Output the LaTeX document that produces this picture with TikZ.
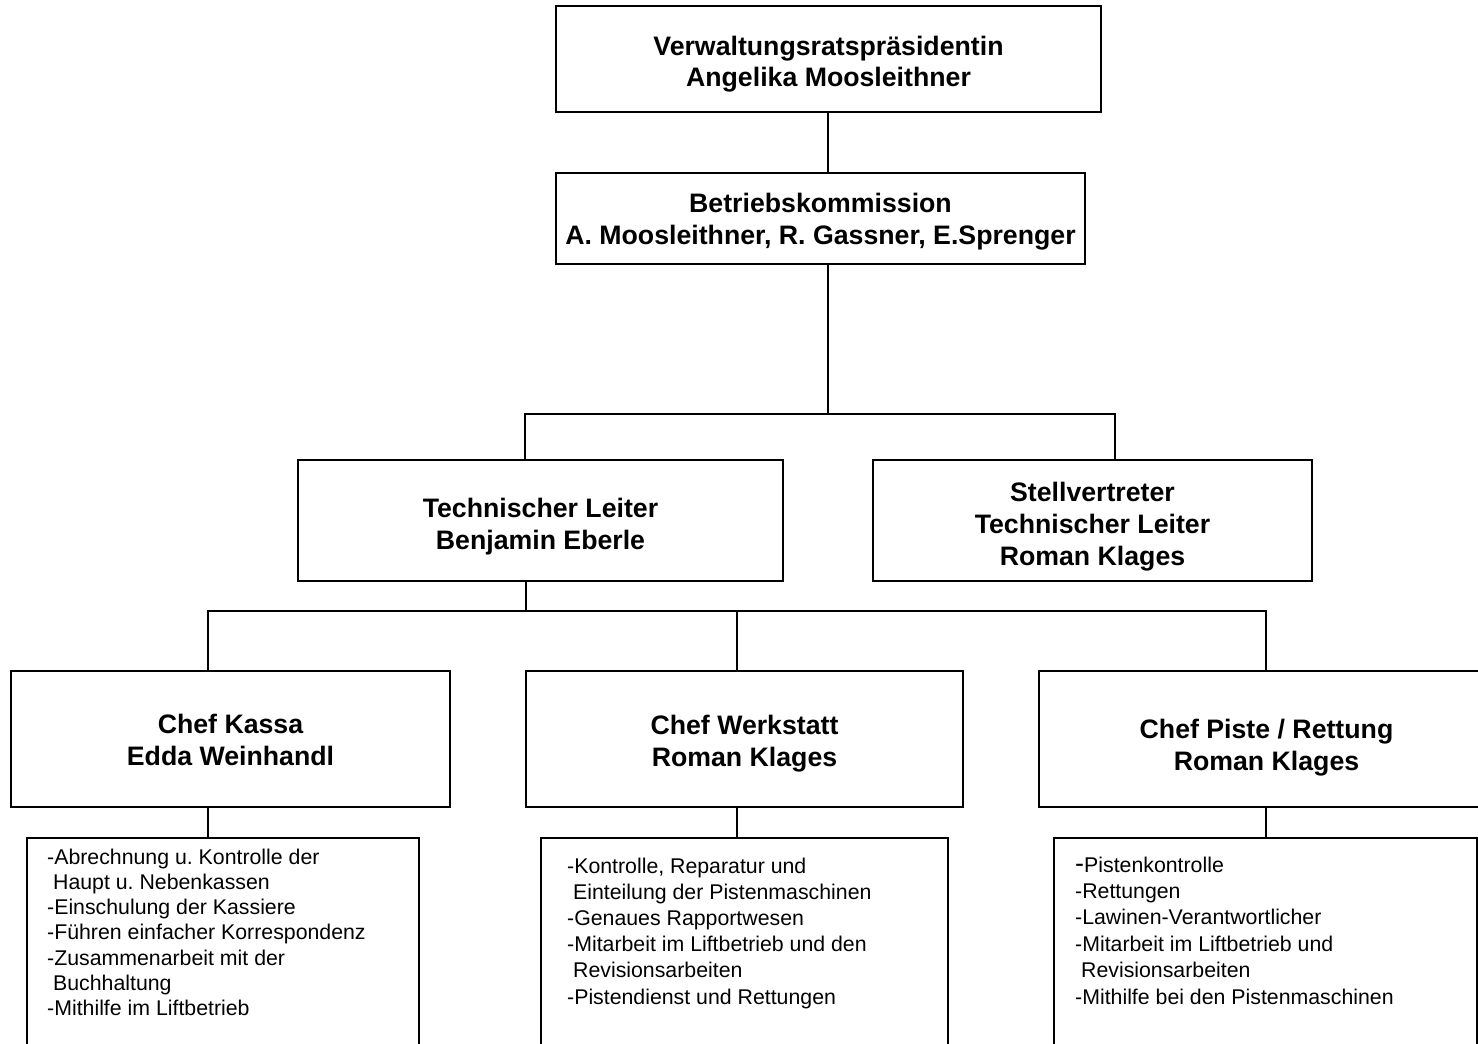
\documentclass[tikz,border=0pt]{standalone}
\usepackage{fontspec}
\setmainfont{Liberation Sans}
\frenchspacing
\tikzset{
  box/.style={draw, line width=1.8pt, inner sep=0pt},
  boxtext/.style={anchor=base, inner sep=0pt,
    font=\fontsize{26.7}{32}\selectfont\bfseries},
  listbox/.style={draw, line width=1.8pt, inner sep=0pt},
  listtext/.style={anchor=base west, inner sep=0pt},
  conn/.style={line width=1.3pt}
}
\newcommand{\ind}{\hspace*{0.28em}}
\newcommand{\ctext}[1]{\parbox[t]{600pt}{\centering #1}}
\begin{document}
\begin{tikzpicture}[x=1pt, y=-1pt]
\useasboundingbox (0,0) rectangle (1478,1044);
\clip (0,0) rectangle (1478,1044);
\fill[white] (0,0) rectangle (1478,1044);

% boxes
\node[box, minimum width=545pt, minimum height=106pt] (vr) at (828.5,59) {};
\node[box, minimum width=529pt, minimum height=91pt] (bk) at (820.5,218.5) {};
\node[box, minimum width=485pt, minimum height=121pt] (tl) at (540.5,520.5) {};
\node[box, minimum width=439pt, minimum height=121pt] (stv) at (1092.5,520.5) {};
\node[box, minimum width=439pt, minimum height=136pt] (ck) at (230.5,739) {};
\node[box, minimum width=437pt, minimum height=136pt] (cw) at (744.5,739) {};
\node[box, minimum width=455pt, minimum height=136pt] (cp) at (1266.5,739) {};

% box texts (first baseline placed)
\node[boxtext] (vrt) at (828.5,55) {\ctext{Verwaltungsratspräsidentin\\Angelika Moosleithner}};
\node[boxtext] (bkt) at (820.5,212) {\ctext{Betriebskommission\\A. Moosleithner, R. Gassner, E.Sprenger}};
\node[boxtext] (tlt) at (540.5,517) {\ctext{Technischer Leiter\\Benjamin Eberle}};
\node[boxtext] (stvt) at (1092.5,501) {\ctext{Stellvertreter\\Technischer Leiter\\Roman Klages}};
\node[boxtext] (ckt) at (230.5,733) {\ctext{Chef Kassa\\Edda Weinhandl}};
\node[boxtext] (cwt) at (744.5,734) {\ctext{Chef Werkstatt\\Roman Klages}};
\node[boxtext] (cpt) at (1266.5,738) {\ctext{Chef Piste / Rettung\\Roman Klages}};

% list boxes
\node[listbox, minimum width=392pt, minimum height=262pt] (lk) at (223,969) {};
\node[listbox, minimum width=407pt, minimum height=262pt] (lw) at (744.5,969) {};
\node[listbox, minimum width=423pt, minimum height=262pt] (lp) at (1265.5,969) {};

\node[listtext] (lkt) at (47,864) {\parbox[t]{370pt}{\fontsize{21.3}{25.3}\selectfont
  -Abrechnung u. Kontrolle der\\
  \ind Haupt u. Nebenkassen\\
  -Einschulung der Kassiere\\
  -Führen einfacher Korrespondenz\\
  -Zusammenarbeit mit der\\
  \ind Buchhaltung\\
  -Mithilfe im Liftbetrieb}};
\node[listtext] (lwt) at (567,873) {\parbox[t]{370pt}{\fontsize{21.3}{26.2}\selectfont
  -Kontrolle, Reparatur und\\
  \ind Einteilung der Pistenmaschinen\\
  -Genaues Rapportwesen\\
  -Mitarbeit im Liftbetrieb und den\\
  \ind Revisionsarbeiten\\
  -Pistendienst und Rettungen}};
\node[listtext] (lpt) at (1075,872) {\parbox[t]{390pt}{\fontsize{21.3}{26.4}\selectfont
  {\fontsize{27}{26.4}\selectfont -}Pistenkontrolle\\
  -Rettungen\\
  -Lawinen-Verantwortlicher\\
  -Mitarbeit im Liftbetrieb und\\
  \ind Revisionsarbeiten\\
  -Mithilfe bei den Pistenmaschinen}};

% junction coordinates
\coordinate (j1) at (828,414);
\coordinate (j1l) at (525,414);
\coordinate (j1r) at (1115,414);
\coordinate (j2) at (526,611);
\coordinate (j2l) at (208,611);
\coordinate (j2m) at (737,611);
\coordinate (j2r) at (1266,611);

% connectors
\draw[conn] (vr.south -| j1) -- (bk.north -| j1);
\draw[conn] (bk.south -| j1) -- (j1);
\draw[conn] (tl.north -| j1l) -- (j1l) -- (j1r) -- (stv.north -| j1r);
\draw[conn] (tl.south -| j2) -- (j2);
\draw[conn] (ck.north -| j2l) -- (j2l) -- (j2r) -- (cp.north -| j2r);
\draw[conn] (j2m) -- (cw.north -| j2m);
\draw[conn] (ck.south -| j2l) -- (lk.north -| j2l);
\draw[conn] (cw.south -| j2m) -- (lw.north -| j2m);
\draw[conn] (cp.south -| j2r) -- (lp.north -| j2r);
\end{tikzpicture}
\end{document}
